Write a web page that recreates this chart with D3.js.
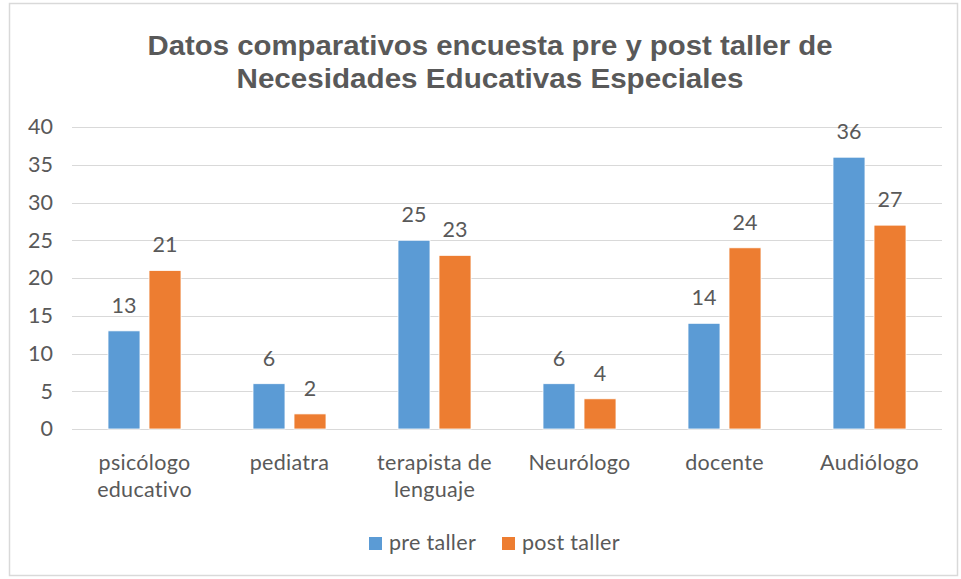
<!DOCTYPE html>
<html>
<head>
<meta charset="utf-8">
<script src="https://cdn.jsdelivr.net/npm/d3@7"></script>
<style>
  html, body { margin: 0; padding: 0; background: #ffffff; }
  svg { display: block; }
</style>
</head>
<body>
<svg id="chart" width="961" height="579"></svg>
<script>
// Survey results before and after the workshop, per professional
const categories = [["psicólogo", "educativo"], ["pediatra"], ["terapista de", "lenguaje"], ["Neurólogo"], ["docente"], ["Audiólogo"]];
const seriesNames = ["pre taller", "post taller"];
const preTaller = [13, 6, 25, 6, 14, 36];
const postTaller = [21, 2, 23, 4, 24, 27];
const yTicks = [0, 5, 10, 15, 20, 25, 30, 35, 40];
const titleLines = ["Datos comparativos encuesta pre y post taller de", "Necesidades Educativas Especiales"];

const colors = ["#5B9BD5", "#ED7D31"];
const textColor = "#595959";
const gridColor = "#D9D9D9";
const font = "Lato, 'Open Sans', sans-serif";
const fontSize = 21.5;

const svg = d3.select("#chart");

// outer frame
svg.append("rect")
  .attr("x", 9.5).attr("y", 3.5)
  .attr("width", 948).attr("height", 572)
  .attr("fill", "#ffffff")
  .attr("stroke", gridColor).attr("stroke-width", 1.5);

const plot = { left: 72, right: 942, top: 127, bottom: 429 };

const catKeys = categories.map(c => c.join(" "));
const x0 = d3.scaleBand().domain(catKeys).range([plot.left, plot.right]).padding(0);
const groupPad = (x0.bandwidth() - 73) / 2;
const x1 = d3.scaleBand().domain(seriesNames)
  .range([groupPad, x0.bandwidth() - groupPad]).paddingInner(0.22).paddingOuter(0);
const y = d3.scaleLinear().domain([0, 40]).range([plot.bottom, plot.top]);

// title
svg.append("g").selectAll("text").data(titleLines).join("text")
  .attr("x", 490)
  .attr("y", (d, i) => 55 + i * 33)
  .attr("text-anchor", "middle")
  .attr("font-family", "'Liberation Sans', Arial, sans-serif")
  .attr("font-weight", "bold")
  .attr("font-size", 27)
  .attr("fill", textColor)
  .attr("textLength", (d, i) => i === 0 ? 685 : 507)
  .attr("lengthAdjust", "spacingAndGlyphs")
  .text(d => d);

// gridlines
svg.append("g").selectAll("line").data(yTicks).join("line")
  .attr("x1", plot.left).attr("x2", plot.right)
  .attr("y1", d => Math.round(y(d)) + 0.5).attr("y2", d => Math.round(y(d)) + 0.5)
  .attr("stroke", gridColor).attr("stroke-width", 1);

// y axis labels
const yAxis = d3.axisLeft(y).tickValues(yTicks).tickSize(0).tickPadding(0);
const yg = svg.append("g").attr("transform", `translate(${plot.left - 19},0)`).call(yAxis);
yg.select(".domain").remove();
yg.selectAll("text")
  .attr("font-family", font).attr("font-size", fontSize).attr("fill", textColor);

// bars
const data = catKeys.map((k, i) => ({ key: k, values: [preTaller[i], postTaller[i]] }));
const groups = svg.append("g").selectAll("g").data(data).join("g")
  .attr("transform", d => `translate(${x0(d.key)},0)`);

groups.selectAll("rect")
  .data(d => d.values.map((v, j) => ({ name: seriesNames[j], value: v, j })))
  .join("rect")
  .attr("x", d => x1(d.name))
  .attr("y", d => y(d.value))
  .attr("width", x1.bandwidth())
  .attr("height", d => y(0) - y(d.value))
  .attr("fill", d => colors[d.j])
  .attr("stroke", "#ffffff").attr("stroke-width", 0.8);

// value labels
groups.selectAll("text.val")
  .data(d => d.values.map((v, j) => ({ name: seriesNames[j], value: v, j })))
  .join("text")
  .attr("class", "val")
  .attr("x", d => x1(d.name) + x1.bandwidth() / 2)
  .attr("y", d => y(d.value) - 18)
  .attr("text-anchor", "middle")
  .attr("font-family", font).attr("font-size", fontSize).attr("fill", textColor)
  .text(d => d.value);

// category labels
const xg = svg.append("g");
categories.forEach((lines, i) => {
  const cx = x0(catKeys[i]) + x0.bandwidth() / 2;
  xg.append("text")
    .attr("x", cx).attr("y", 470)
    .attr("text-anchor", "middle")
    .attr("font-family", font).attr("font-size", fontSize).attr("fill", textColor)
    .attr("letter-spacing", 0.3)
    .selectAll("tspan").data(lines).join("tspan")
    .attr("x", cx)
    .attr("dy", (d, j) => j === 0 ? 0 : 27)
    .text(d => d);
});

// legend
const legendX = [369, 502];
const lg = svg.append("g").selectAll("g").data(seriesNames).join("g")
  .attr("transform", (d, i) => `translate(${legendX[i]},537)`);
lg.append("rect")
  .attr("width", 13).attr("height", 13)
  .attr("fill", (d, i) => colors[i]);
lg.append("text")
  .attr("x", 20).attr("y", 13)
  .attr("font-family", font).attr("font-size", fontSize).attr("fill", textColor)
  .attr("letter-spacing", 0.3)
  .text(d => d);
</script>
</body>
</html>
